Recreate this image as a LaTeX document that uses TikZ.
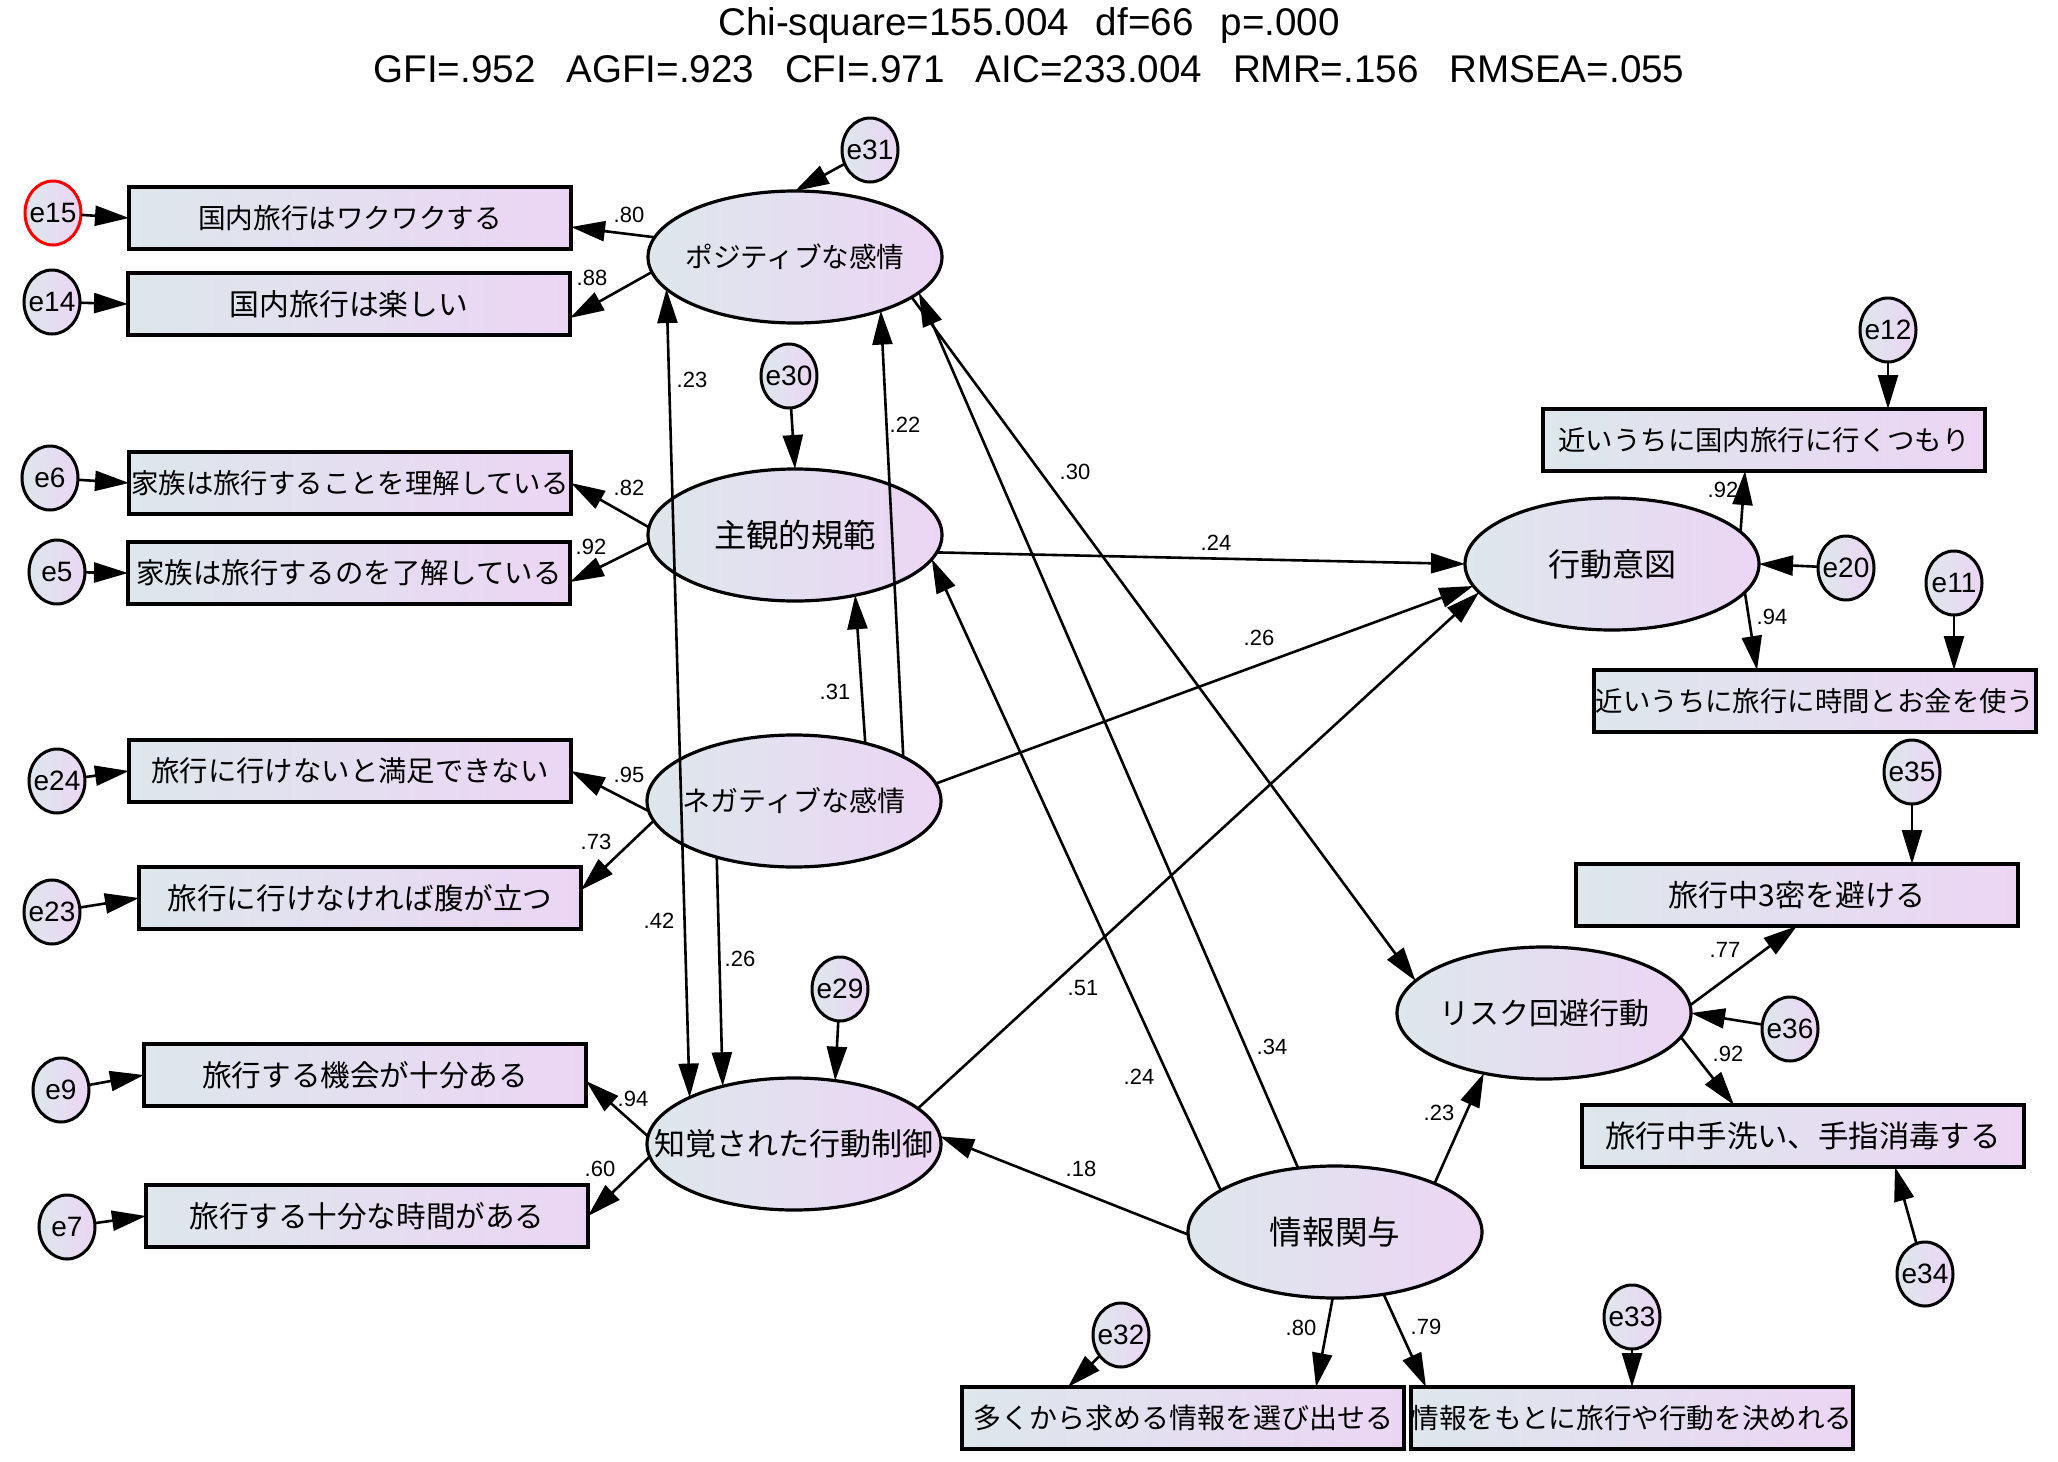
\documentclass[tikz,border=0pt]{standalone}
\usepackage{fontspec}
\setmainfont{Liberation Sans}
\newfontfamily\cjk{Noto Sans CJK JP}
\usetikzlibrary{shapes.geometric,arrows.meta,calc}
\definecolor{fillL}{RGB}{221,231,236}
\definecolor{fillR}{RGB}{236,213,244}
\newcommand\mkz[1]{\makebox[0pt]{#1}}
\begin{document}
\begin{tikzpicture}[x=0.5pt,y=-0.5pt,
 obs/.style={draw,line width=1.8pt,rectangle,minimum width=221pt,minimum height=31pt,inner sep=0pt,outer sep=0pt,left color=fillL,right color=fillR,font={\cjk\fontsize{14.8}{15}\selectfont}},
 lat/.style={draw,line width=1.6pt,ellipse,minimum width=147pt,minimum height=66pt,inner sep=0pt,outer sep=0pt,left color=fillL,right color=fillR,font={\cjk\fontsize{15.5}{16}\selectfont}},
 sz/.style={font={\cjk\fontsize{#1}{#1}\selectfont}},
 err/.style={draw,line width=1.5pt,ellipse,minimum width=28pt,minimum height=32pt,inner sep=0pt,outer sep=0pt,left color=fillL,right color=fillR,font={\fontsize{14}{14}\selectfont}},
 pth/.style={line width=1.3pt,-{Triangle[length=17pt,width=10pt]}},
 wt/.style={font={\fontsize{11}{11}\selectfont},inner sep=0pt},
 ttl/.style={anchor=base,inner sep=0pt,font={\fontsize{19.3}{20}\selectfont}}
]
\fill[white] (0,0) rectangle (2058,1462);
\useasboundingbox (0,0) rectangle (2058,1462);

% title
\node[ttl] (t1) at (1029,35) {Chi-square=155.004\hspace{0.7em}df=66\hspace{0.7em}p=.000};
\node[ttl] (t2) at (1029,82) {GFI=.952\hspace{0.8em}AGFI=.923\hspace{0.8em}CFI=.971\hspace{0.8em}AIC=233.004\hspace{0.8em}RMR=.156\hspace{0.8em}RMSEA=.055};

% latent variables
\node[lat,sz=13.8] (Pos)  at (795,257)  {\mkz{ポジティブな感情}};
\node[lat,sz=16.2] (Subj) at (795,535)  {\mkz{主観的規範}};
\node[lat,sz=14]   (Neg)  at (794,801)  {\mkz{ネガティブな感情}};
\node[lat,sz=15.5] (PBC)  at (794,1144) {\mkz{知覚された行動制御}};
\node[lat,sz=16]   (BI)   at (1612,564) {\mkz{行動意図}};
\node[lat,sz=15]   (Risk) at (1544,1013){\mkz{リスク回避行動}};
\node[lat,sz=16.3] (Info) at (1335,1232){\mkz{情報関与}};

% observed variables
\node[obs,sz=13.8] (r15) at (350,218)  {国内旅行はワクワクする};
\node[obs,sz=14.9] (r14) at (349,304)  {国内旅行は楽しい};
\node[obs,sz=13.7] (r6)  at (350,483)  {家族は旅行することを理解している};
\node[obs,sz=14.2] (r5)  at (349,573)  {家族は旅行するのを了解している};
\node[obs,sz=14.2] (r24) at (350,771)  {旅行に行けないと満足できない};
\node[obs,sz=14.8] (r23) at (360,898)  {旅行に行けなければ腹が立つ};
\node[obs,sz=14.8] (r9)  at (365,1075) {旅行する機会が十分ある};
\node[obs,sz=14.8] (r7)  at (367,1216) {旅行する十分な時間がある};
\node[obs,sz=13.7] (r12) at (1764,440) {近いうちに国内旅行に行くつもり};
\node[obs,sz=13.7] (r11) at (1815,701) {近いうちに旅行に時間とお金を使う};
\node[obs,sz=15]   (r35) at (1797,895) {旅行中3密を避ける};
\node[obs,sz=15.2] (r34) at (1803,1136){旅行中手洗い、手指消毒する};
\node[obs,sz=14]   (r32) at (1183,1418){多くから求める情報を選び出せる};
\node[obs,sz=13.8] (r33) at (1632,1418){情報をもとに旅行や行動を決めれる};

% error terms
\node[err,draw=red] (e15) at (53,213) {\mkz{e15}};
\node[err] (e14) at (52,302)  {\mkz{e14}};
\node[err] (e6)  at (50,478)  {\mkz{e6}};
\node[err] (e5)  at (57,572)  {\mkz{e5}};
\node[err] (e24) at (57,781)  {\mkz{e24}};
\node[err] (e23) at (52,912)  {\mkz{e23}};
\node[err] (e9)  at (61,1090) {\mkz{e9}};
\node[err] (e7)  at (67,1227) {\mkz{e7}};
\node[err] (e31) at (870,150)  {\mkz{e31}};
\node[err] (e30) at (789,376)  {\mkz{e30}};
\node[err] (e29) at (840,989)  {\mkz{e29}};
\node[err] (e12) at (1888,330) {\mkz{e12}};
\node[err] (e20) at (1846,568) {\mkz{e20}};
\node[err] (e11) at (1954,583) {\mkz{e11}};
\node[err] (e35) at (1912,772) {\mkz{e35}};
\node[err] (e36) at (1790,1029){\mkz{e36}};
\node[err] (e34) at (1925,1274){\mkz{e34}};
\node[err] (e32) at (1121,1335){\mkz{e32}};
\node[err] (e33) at (1632,1317){\mkz{e33}};

% error arrows
\draw[pth] (e15) -- (r15.west);
\draw[pth] (e14) -- (r14.west);
\draw[pth] (e6) -- (r6.west);
\draw[pth] (e5) -- (r5.west);
\draw[pth] (e24) -- (r24.west);
\draw[pth] (e23) -- (r23.west);
\draw[pth] (e9) -- (r9.west);
\draw[pth] (e7) -- (r7.west);
\draw[pth] (e31) -- (Pos.north);
\draw[pth] (e30) -- (Subj.north);
\draw[pth] (e29) -- (PBC.57);
\draw[pth] (e20) -- (BI.east);
\draw[pth] (e12) -- ($(r12.north)+(124,0)$);
\draw[pth] (e11) -- ($(r11.north)+(139,0)$);
\draw[pth] (e36) -- (Risk.east);
\draw[pth] (e35) -- ($(r35.north)+(115,0)$);
\draw[pth] (e34) -- ($(r34.south)+(92,0)$);
\draw[pth] (e32) -- ($(r32.north)+(-115,0)$);
\draw[pth] (e33) -- (r33.north);

% measurement paths
\draw[pth] (Pos.172) -- ($(r15.east)+(0,9)$);
\draw[pth] (Pos.186) -- ($(r14.east)+(0,14)$);
\draw[pth] (Subj.177) -- (r6.east);
\draw[pth] (Subj.183) -- ($(r5.east)+(0,9)$);
\draw[pth] (Neg.184) -- (r24.east);
\draw[pth] (Neg.188) -- ($(r23.east)+(0,-8)$);
\draw[pth] (PBC.177) -- ($(r9.east)+(0,6)$);
\draw[pth] (PBC.185) -- (r7.east);
\draw[pth] (BI.14) -- ($(r12.south)+(-19,0)$);
\draw[pth] (BI.348) -- ($(r11.north)+(-58,0)$);
\draw[pth] (Risk.3) -- (r35.south);
\draw[pth] (Risk.350) -- ($(r34.north)+(-69,0)$);
\draw[pth] (Info.268) -- ($(r32.north)+(133,0)$);
\draw[pth] (Info.308) -- ($(r33.north west)+(15,0)$);

% structural paths
\draw[line width=1.3pt,{Triangle[length=17pt,width=10pt]}-{Triangle[length=17pt,width=10pt]}] (Pos.194.6) -- (PBC.156.5);
\draw[pth] (Neg.39) -- (Subj.315);
\draw[pth] (Neg.22) -- (Pos.328);
\draw[pth] (Neg.216) -- (PBC.141);
\draw[pth] (Neg.7) -- (BI.189);
\draw[pth] (Subj.353) -- (BI.west);
\draw[pth] (Info.160) -- (Subj.350);
\draw[pth] (Info.120) -- (Pos.344);
\draw[pth] (Pos.341) -- (Risk.166);
\draw[pth] (PBC.16) -- (BI.192);
\draw[pth] (Info.181) -- (PBC.3);
\draw[pth] (Info.26) -- (Risk.225);

% weights
\node[wt] (w1)  at (629,215)  {.80};
\node[wt] (w2)  at (592,278)  {.88};
\node[wt] (w3)  at (692,380)  {.23};
\node[wt] (w4)  at (905,425)  {.22};
\node[wt] (w5)  at (1075,472) {.30};
\node[wt] (w6)  at (629,488)  {.82};
\node[wt] (w7)  at (591,547)  {.92};
\node[wt] (w8)  at (1216,543) {.24};
\node[wt] (w9)  at (1259,638) {.26};
\node[wt] (w10) at (835,692)  {.31};
\node[wt] (w11) at (629,775)  {.95};
\node[wt] (w12) at (596,842)  {.73};
\node[wt] (w13) at (659,921)  {.42};
\node[wt] (w14) at (740,959)  {.26};
\node[wt] (w15) at (1083,988) {.51};
\node[wt] (w16) at (1139,1077){.24};
\node[wt] (w17) at (1272,1047){.34};
\node[wt] (w18) at (633,1099) {.94};
\node[wt] (w19) at (600,1169) {.60};
\node[wt] (w20) at (1081,1169){.18};
\node[wt] (w21) at (1439,1113){.23};
\node[wt] (w22) at (1723,490) {.92};
\node[wt] (w23) at (1772,617) {.94};
\node[wt] (w24) at (1725,950) {.77};
\node[wt] (w25) at (1728,1054){.92};
\node[wt] (w26) at (1301,1328){.80};
\node[wt] (w27) at (1426,1327){.79};
\end{tikzpicture}
\end{document}
